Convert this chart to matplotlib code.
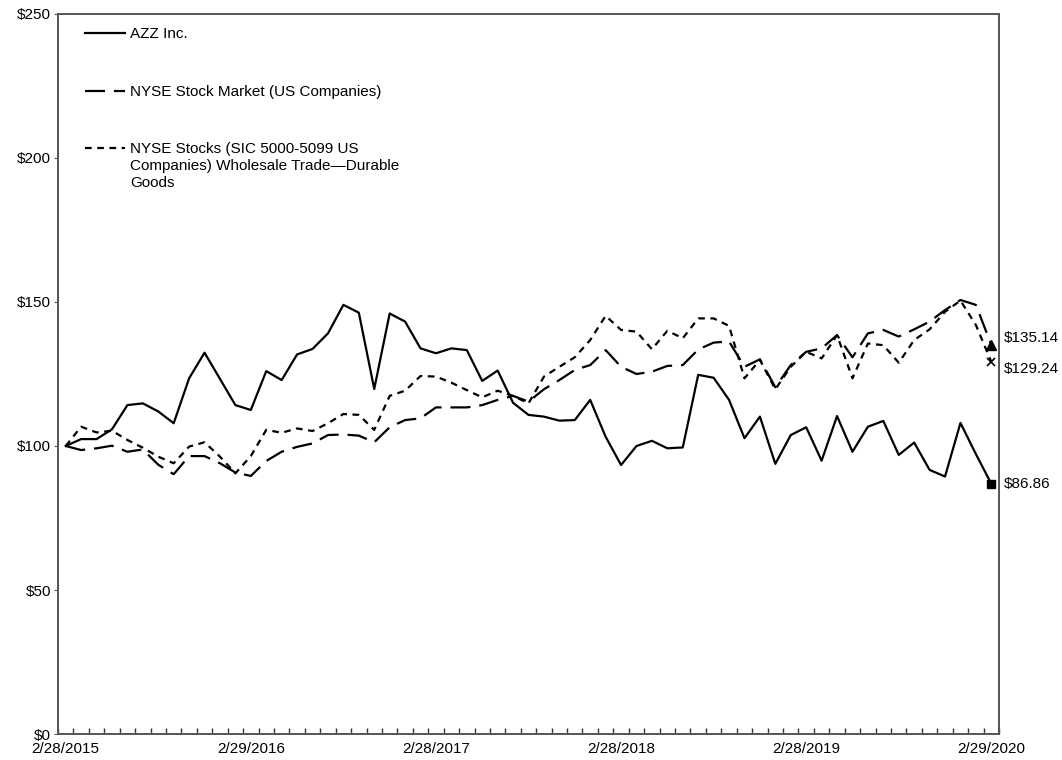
import numpy as np
import matplotlib.pyplot as plt
from matplotlib.ticker import FixedLocator, FuncFormatter

plt.rcParams['font.family'] = ['Liberation Sans', 'DejaVu Sans']

# ============================
#   Données
# ============================

date_labels = ["2/28/2015", "2/29/2016", "2/28/2017", "2/28/2018", "2/28/2019", "2/29/2020"]

azz = [100, 102.4, 102.4, 105.8, 114.2, 114.8, 112.0, 107.9, 123.5, 132.4,
       123.3, 114.2, 112.5, 126.0, 122.9, 131.8, 133.7, 139.1, 149.0, 146.3,
       119.8, 146.0, 143.2, 133.9, 132.2, 133.9, 133.3, 122.6, 126.2, 115.0,
       110.8, 110.2, 108.8, 109.0, 116.0, 103.2, 93.4, 100.0, 101.8, 99.2,
       99.5, 124.7, 123.7, 116.0, 102.7, 110.2, 93.8, 103.8, 106.5, 94.9,
       110.4, 98.0, 106.7, 108.7, 96.9, 101.2, 91.7, 89.4, 108.0, 97.2,
       86.86]

nyse_market = [100, 98.6, 99.2, 100.1, 98.0, 98.8, 93.5, 90.2, 96.5, 96.5,
               94.0, 90.8, 89.6, 94.8, 98.0, 99.7, 100.9, 103.8, 104.0, 103.6,
               101.3, 106.5, 109.0, 109.6, 113.4, 113.4, 113.4, 114.2, 116.0, 117.4,
               115.4, 119.7, 122.9, 126.4, 128.1, 133.3, 127.5, 125.0, 125.8, 127.8,
               128.1, 133.5, 135.9, 136.3, 127.5, 130.1, 120.4, 128.1, 132.7, 133.9,
               138.5, 130.8, 139.1, 140.3, 138.0, 140.5, 143.2, 147.2, 150.7, 149.0,
               135.14]

nyse_wholesale = [100, 106.7, 104.7, 105.3, 102.1, 99.4, 96.3, 94.0, 99.8, 101.3,
                  96.3, 90.5, 96.5, 105.6, 104.6, 106.1, 105.2, 107.9, 111.1, 110.8,
                  105.6, 117.4, 119.2, 124.3, 124.1, 122.0, 119.4, 116.9, 119.2, 117.4,
                  114.8, 124.1, 127.5, 130.8, 136.8, 145.2, 140.3, 139.7, 133.6, 140.0,
                  137.4, 144.3, 144.3, 141.7, 123.5, 129.9, 119.7, 127.5, 132.7, 130.4,
                  138.5, 123.5, 135.6, 135.0, 128.9, 136.8, 140.5, 146.6, 150.5, 142.0,
                  129.24]

names = ["AZZ Inc.",
         "NYSE Stock Market (US Companies)",
         "NYSE Stocks (SIC 5000-5099 US\nCompanies) Wholesale Trade\u2014Durable\nGoods"]

styles = [dict(), dict(dashes=(9, 4)), dict(dashes=(3, 2.5))]


# ============================
#   Figure
# ============================

fig = plt.figure(figsize=(10.62, 7.6), dpi=100)
ax = fig.add_axes([0.0546, 0.0342, 0.8861, 0.9474])

x = np.arange(len(azz))
lw = 1.6
fs = 11

for serie, st in zip([azz, nyse_market, nyse_wholesale], styles):
    ax.plot(x, serie, color="black", lw=lw, **st)

# marqueurs de fin de série
ax.plot(x[-1], azz[-1], marker="s", ms=5.5, color="black", ls="none")
ax.plot(x[-1], nyse_market[-1], marker="^", ms=7, color="black", ls="none")
ax.plot(x[-1], nyse_wholesale[-1], marker="x", ms=6, mew=1.2, color="black", ls="none")

# valeurs finales
for val, dy in [(nyse_market[-1], 5), (nyse_wholesale[-1], -5), (azz[-1], 0)]:
    ax.annotate(f"${val:.2f}", xy=(x[-1], val), xytext=(9, dy),
                textcoords="offset points", va="center", ha="left",
                fontsize=fs, annotation_clip=False)

# légende manuelle (trait à la hauteur de la première ligne)
leg_y = [0.9736, 0.893, 0.8139]
for name, st, yy in zip(names, styles, leg_y):
    ax.plot([0.0287, 0.0712], [yy, yy], transform=ax.transAxes,
            color="black", lw=lw, **st)
    ax.text(0.0765, yy + 0.009, name, transform=ax.transAxes, fontsize=fs,
            va="top", ha="left", linespacing=1.3)

# axes
ax.set_xlim(-0.5, len(azz) - 0.5)
ax.set_ylim(0, 250)
ax.set_yticks(np.arange(0, 251, 50))
ax.yaxis.set_major_formatter(FuncFormatter(lambda v, p: f"${v:.0f}"))
ax.tick_params(axis="y", direction="out", length=3, color="#555555",
               labelsize=fs, pad=2)

ax.set_xticks(x[::12])
ax.set_xticklabels(date_labels)
ax.xaxis.set_minor_locator(FixedLocator(np.arange(-0.5, len(azz), 1)))
ax.tick_params(axis="x", which="major", length=0, labelsize=fs, pad=6)
ax.tick_params(axis="x", which="minor", direction="in", length=4,
               color="#333333", width=1)

for s in ax.spines.values():
    s.set_color("#555555")
    s.set_linewidth(1.4)

fig.savefig("out.png", dpi=100)
